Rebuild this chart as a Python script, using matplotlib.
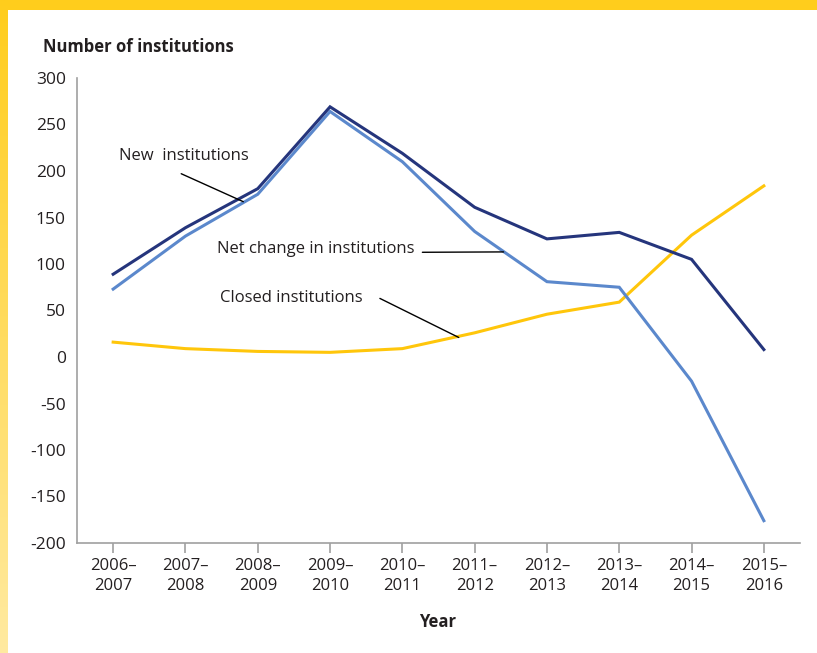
import matplotlib.pyplot as plt
import numpy as np
from matplotlib.colors import LinearSegmentedColormap

plt.rcParams['font.family'] = ['Open Sans', 'DejaVu Sans']

# Data
years = ['2006–\n2007', '2007–\n2008', '2008–\n2009', '2009–\n2010', '2010–\n2011',
         '2011–\n2012', '2012–\n2013', '2013–\n2014', '2014–\n2015', '2015–\n2016']
new_inst = [89, 139, 181, 269, 219, 161, 127, 134, 105, 8]
closed_inst = [16, 9, 6, 5, 9, 26, 46, 59, 131, 184]
net_change = [73, 130, 175, 264, 210, 135, 81, 75, -26, -176]

navy = '#25357c'
light_blue = '#5b88cc'
yellow = '#ffc60b'
grey = '#a0a0a0'

fig = plt.figure(figsize=(8.17, 6.53), dpi=100)

# yellow frame: top bar and left gradient strip
top = fig.add_axes([0, 1 - 10 / 653, 1, 10 / 653])
top.set_facecolor('#ffcd1c')
top.set_xticks([])
top.set_yticks([])
for s in top.spines.values():
    s.set_visible(False)

left = fig.add_axes([0, 0, 8 / 817, 1])
grad = np.linspace(0, 1, 256).reshape(-1, 1)
cmap = LinearSegmentedColormap.from_list('yl', ['#ffeaa0', '#ffcd1c'])
left.imshow(grad, aspect='auto', cmap=cmap, origin='lower')
left.axis('off')

ax = fig.add_axes([77 / 817, 1 - 543 / 653, (800 - 77) / 817, (543 - 78) / 653])
x = np.arange(len(years))

ax.plot(x, closed_inst, color=yellow, lw=2.2, solid_joinstyle='miter')
ax.plot(x, net_change, color=light_blue, lw=2.2, solid_joinstyle='miter')
ax.plot(x, new_inst, color=navy, lw=2.2, solid_joinstyle='miter')

ax.set_xlim(-0.5, len(years) - 0.5)
ax.set_ylim(-200, 300)
ax.set_yticks(np.arange(-200, 301, 50))
ax.set_yticklabels([str(v) for v in range(-200, 301, 50)], fontsize=12.5, color='#231f20')
ax.set_xticks(x)
ax.set_xticklabels(years, fontsize=12, color='#231f20', linespacing=1.35)
ax.tick_params(axis='y', length=0, pad=8)
ax.tick_params(axis='x', length=7, width=1.2, color=grey, pad=4)

for side in ['top', 'right']:
    ax.spines[side].set_visible(False)
for side in ['left', 'bottom']:
    ax.spines[side].set_color(grey)
    ax.spines[side].set_linewidth(1.2)

fig.text(43 / 817, 1 - 47 / 653, 'Number of institutions', fontsize=12, fontweight='bold',
         color='#231f20', va='center', ha='left')
fig.text(438 / 817, 1 - 622 / 653, 'Year', fontsize=12, fontweight='bold',
         color='#231f20', va='center', ha='center')

# annotations with leader lines
ax.annotate('New  institutions', xy=(1.8, new_inst[2] - 14), xytext=(0.08, 216),
            fontsize=12, color='#231f20', va='center',
            arrowprops=dict(arrowstyle='-', color='black', lw=1,
                            shrinkA=0, shrinkB=0, relpos=(0.48, -0.6)))
ax.annotate('Net change in institutions', xy=(5.4, 113), xytext=(1.43, 116),
            fontsize=12, color='#231f20', va='center',
            arrowprops=dict(arrowstyle='-', color='black', lw=1,
                            shrinkA=4, shrinkB=0, relpos=(1, 0.3)))
ax.annotate('Closed institutions', xy=(4.78, 21), xytext=(1.48, 63),
            fontsize=12, color='#231f20', va='center',
            arrowprops=dict(arrowstyle='-', color='black', lw=1,
                            shrinkA=0, shrinkB=0, relpos=(1.12, 0.5)))

fig.savefig('out.png', dpi=100)
